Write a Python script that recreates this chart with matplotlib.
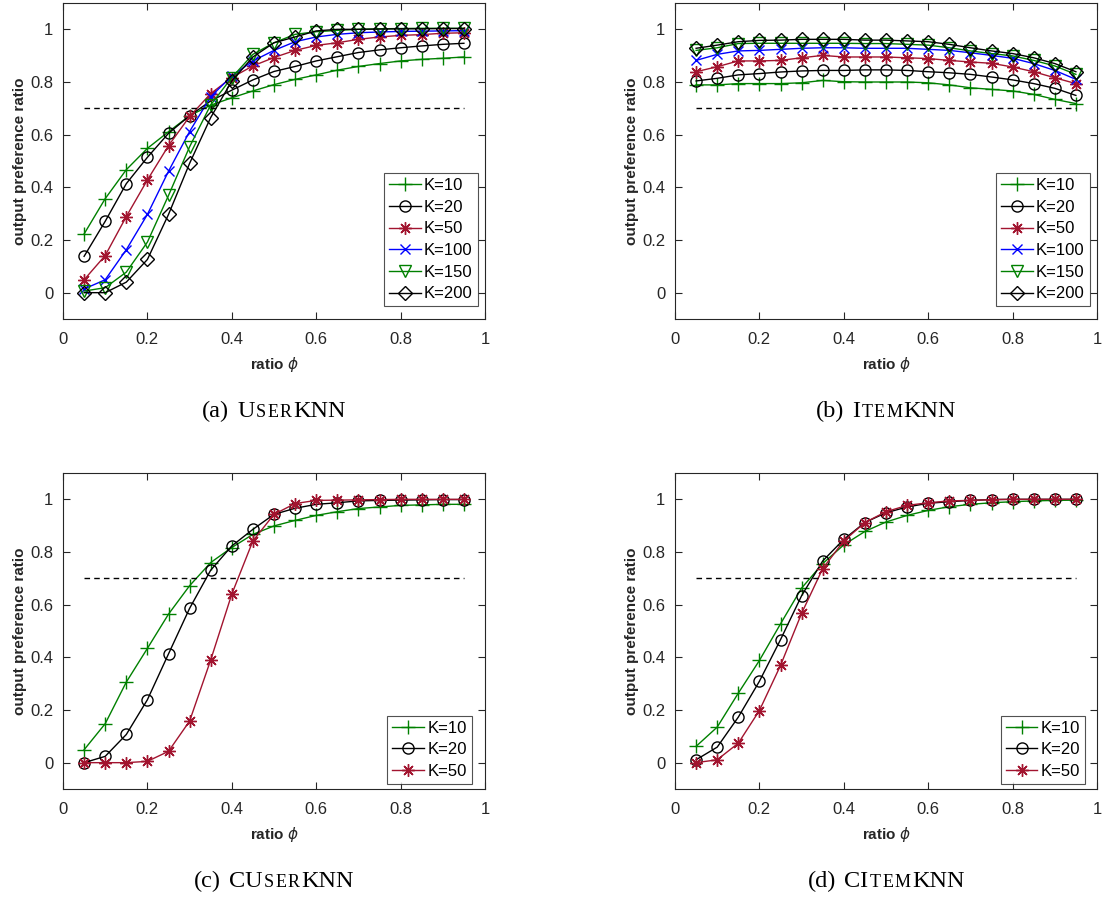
import matplotlib
matplotlib.use("Agg")
import matplotlib.pyplot as plt
from matplotlib.offsetbox import TextArea, HPacker, AnchoredOffsetbox, DrawingArea
import numpy as np

plt.rcParams['font.family'] = ['Liberation Sans', 'DejaVu Sans']
plt.rcParams['mathtext.fontset'] = 'dejavusans'

phi = [0.05, 0.10, 0.15, 0.20, 0.25, 0.30, 0.35, 0.40, 0.45, 0.50,
       0.55, 0.60, 0.65, 0.70, 0.75, 0.80, 0.85, 0.90, 0.95]
threshold = 0.7

# (a) UserKNN
a_k10 = [0.223, 0.357, 0.467, 0.548, 0.611, 0.672, 0.712, 0.740, 0.766, 0.790,
         0.810, 0.827, 0.845, 0.859, 0.870, 0.880, 0.886, 0.890, 0.895]
a_k20 = [0.138, 0.271, 0.414, 0.514, 0.605, 0.672, 0.728, 0.769, 0.808, 0.840,
         0.859, 0.880, 0.896, 0.912, 0.922, 0.930, 0.937, 0.943, 0.947]
a_k50 = [0.049, 0.141, 0.289, 0.428, 0.558, 0.669, 0.756, 0.817, 0.861, 0.893,
         0.920, 0.939, 0.949, 0.962, 0.971, 0.977, 0.980, 0.985, 0.987]
a_k100 = [0.014, 0.049, 0.163, 0.297, 0.461, 0.612, 0.744, 0.823, 0.880, 0.920,
          0.953, 0.971, 0.981, 0.987, 0.990, 0.992, 0.993, 0.994, 0.995]
a_k150 = [0.006, 0.019, 0.078, 0.192, 0.369, 0.554, 0.713, 0.817, 0.905, 0.949,
          0.981, 0.991, 0.996, 1.000, 1.002, 1.003, 1.004, 1.004, 1.004]
a_k200 = [0.000, 0.000, 0.040, 0.126, 0.297, 0.491, 0.665, 0.804, 0.895, 0.949,
          0.971, 0.994, 1.000, 1.000, 1.001, 1.002, 1.002, 1.003, 1.003]

# (b) ItemKNN
b_k10 = [0.789, 0.789, 0.794, 0.794, 0.794, 0.797, 0.806, 0.801, 0.800, 0.800,
         0.800, 0.797, 0.789, 0.778, 0.772, 0.766, 0.753, 0.734, 0.718]
b_k20 = [0.804, 0.814, 0.827, 0.832, 0.838, 0.842, 0.844, 0.844, 0.846, 0.846,
         0.844, 0.839, 0.835, 0.829, 0.819, 0.808, 0.794, 0.776, 0.749]
b_k50 = [0.839, 0.858, 0.880, 0.880, 0.882, 0.892, 0.901, 0.895, 0.895, 0.895,
         0.892, 0.889, 0.882, 0.876, 0.871, 0.857, 0.839, 0.816, 0.794]
b_k100 = [0.882, 0.905, 0.918, 0.920, 0.924, 0.928, 0.930, 0.930, 0.928, 0.928,
          0.928, 0.924, 0.920, 0.911, 0.901, 0.890, 0.870, 0.844, 0.810]
b_k150 = [0.920, 0.930, 0.946, 0.947, 0.947, 0.947, 0.947, 0.947, 0.946, 0.946,
          0.943, 0.940, 0.930, 0.918, 0.908, 0.899, 0.882, 0.861, 0.829]
b_k200 = [0.928, 0.940, 0.953, 0.958, 0.959, 0.962, 0.962, 0.962, 0.959, 0.959,
          0.956, 0.953, 0.943, 0.930, 0.918, 0.908, 0.892, 0.870, 0.839]

# (c) CUserKNN
c_k10 = [0.049, 0.148, 0.306, 0.434, 0.564, 0.672, 0.760, 0.817, 0.867, 0.899,
         0.920, 0.939, 0.953, 0.965, 0.971, 0.977, 0.979, 0.981, 0.981]
c_k20 = [0.000, 0.024, 0.107, 0.239, 0.413, 0.586, 0.731, 0.823, 0.886, 0.943,
         0.966, 0.981, 0.987, 0.994, 0.996, 0.997, 0.998, 0.999, 0.999]
c_k50 = [0.000, 0.000, 0.000, 0.005, 0.043, 0.158, 0.390, 0.640, 0.842, 0.943,
         0.984, 0.996, 0.997, 0.998, 0.999, 1.000, 1.000, 1.000, 1.000]

# (d) CItemKNN
d_k10 = [0.062, 0.135, 0.264, 0.388, 0.527, 0.663, 0.756, 0.827, 0.878, 0.914,
         0.939, 0.958, 0.972, 0.981, 0.987, 0.991, 0.994, 0.996, 0.997]
d_k20 = [0.011, 0.059, 0.173, 0.309, 0.467, 0.634, 0.766, 0.848, 0.912, 0.949,
         0.971, 0.985, 0.991, 0.996, 0.999, 1.000, 1.000, 1.000, 1.000]
d_k50 = [0.000, 0.011, 0.074, 0.198, 0.369, 0.567, 0.737, 0.842, 0.912, 0.953,
         0.977, 0.987, 0.994, 0.996, 0.999, 1.000, 1.000, 1.000, 1.000]

labels6 = ['K=10', 'K=20', 'K=50', 'K=100', 'K=150', 'K=200']

GREEN = '#008000'
RED = '#A2142F'
BLUE = '#0000FF'
BLACK = '#000000'
AX_COLOR = '#262626'
ASTER = (8, 2, 0)

styles = [
    dict(color=GREEN, marker='+', ms=10, mfc='none'),
    dict(color=BLACK, marker='o', ms=8, mfc='none'),
    dict(color=RED, marker=ASTER, ms=9, mfc='none'),
    dict(color=BLUE, marker='x', ms=7, mfc='none'),
    dict(color=GREEN, marker='v', ms=9, mfc='none'),
    dict(color=BLACK, marker='D', ms=7, mfc='none'),
]

fig = plt.figure(figsize=(11.02, 9.06), dpi=100)

W = 422 / 1102
H = 316 / 906
positions = {
    'a': (63 / 1102, 1 - 319 / 906),
    'b': (675 / 1102, 1 - 319 / 906),
    'c': (63 / 1102, 1 - 789 / 906),
    'd': (675 / 1102, 1 - 789 / 906),
}

panels = [
    ('a', [a_k10, a_k20, a_k50, a_k100, a_k150, a_k200], (0.983, 0.04)),
    ('b', [b_k10, b_k20, b_k50, b_k100, b_k150, b_k200], (0.983, 0.04)),
    ('c', [c_k10, c_k20, c_k50], (0.969, 0.016)),
    ('d', [d_k10, d_k20, d_k50], (0.972, 0.016)),
]

captions = {
    'a': ('(a)', 'U', 'SER', 'KNN'),
    'b': ('(b)', 'I', 'TEM', 'KNN'),
    'c': ('(c)', 'CU', 'SER', 'KNN'),
    'd': ('(d)', 'CI', 'TEM', 'KNN'),
}
caption_y = {'a': 411, 'b': 411, 'c': 881, 'd': 881}

SERIF = 'Liberation Serif'
BIG = 17.5
SMALL = 13


def spacer(w):
    return DrawingArea(w, 1)


def caption_box(label, head, sc, tail):
    kids = [TextArea(label, textprops=dict(fontsize=BIG, family=SERIF)),
            spacer(6)]
    kids.append(TextArea(head, textprops=dict(fontsize=BIG, family=SERIF)))
    kids.append(spacer(0.8))
    for ch in sc:
        kids.append(TextArea(ch, textprops=dict(fontsize=SMALL, family=SERIF)))
        kids.append(spacer(1.0))
    kids.append(TextArea(tail, textprops=dict(fontsize=BIG, family=SERIF)))
    return HPacker(children=kids, align='baseline', pad=0, sep=0)


for key, series, leg_anchor in panels:
    left, bottom = positions[key]
    ax = fig.add_axes([left, bottom, W, H])
    handles = []
    for s, st in zip(series, styles):
        h, = ax.plot(phi, s, color=st['color'], marker=st['marker'],
                     markersize=st['ms'], markerfacecolor=st['mfc'],
                     markeredgecolor=st['color'], markeredgewidth=1.0,
                     linewidth=1.0)
        handles.append(h)
    ax.plot([phi[0], phi[-1]], [threshold, threshold], color='black',
            linestyle=(0, (4, 3)), linewidth=1.0)
    ax.set_xlim(0, 1)
    ax.set_ylim(-0.1, 1.1)
    ax.set_xticks([0, 0.2, 0.4, 0.6, 0.8, 1])
    ax.set_xticklabels(['0', '0.2', '0.4', '0.6', '0.8', '1'])
    ax.set_yticks([0, 0.2, 0.4, 0.6, 0.8, 1])
    ax.set_yticklabels(['0', '0.2', '0.4', '0.6', '0.8', '1'])
    ax.tick_params(direction='in', top=True, right=True, length=5,
                   width=0.8, colors=AX_COLOR, labelsize=12)
    ax.tick_params(axis='x', pad=9)
    ax.tick_params(axis='y', pad=7)
    for sp in ax.spines.values():
        sp.set_color(AX_COLOR)
        sp.set_linewidth(0.8)
    ax.set_ylabel('output preference ratio', fontsize=11, fontweight='bold',
                  color=AX_COLOR, labelpad=2)
    ax.set_xlabel(r'ratio $\phi$', fontsize=11, fontweight='bold',
                  color=AX_COLOR, labelpad=6)
    leg = ax.legend(handles, labels6[:len(series)], loc='lower right',
                    bbox_to_anchor=leg_anchor, borderaxespad=0,
                    fontsize=12, frameon=True, fancybox=False,
                    handlelength=1.9, handletextpad=0.2,
                    labelspacing=0.4, borderpad=0.3, edgecolor=AX_COLOR)
    leg.get_frame().set_linewidth(0.8)
    for t in leg.get_texts():
        t.set_color('black')

    pack = caption_box(*captions[key])
    cx = left + W / 2
    ab = AnchoredOffsetbox(loc='center', child=pack, frameon=False,
                           bbox_to_anchor=(cx, 1 - caption_y[key] / 906),
                           bbox_transform=fig.transFigure, pad=0,
                           borderpad=0)
    fig.add_artist(ab)

fig.savefig('out.png', dpi=100)
